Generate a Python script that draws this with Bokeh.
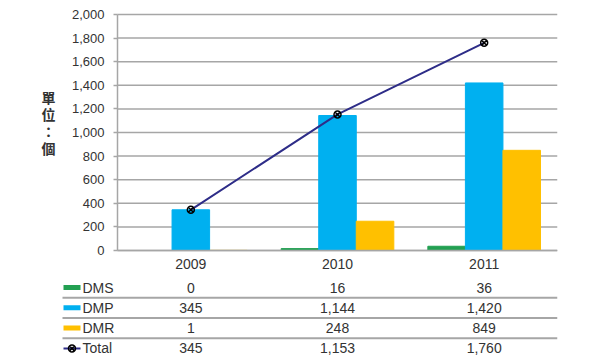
from bokeh.plotting import figure
from bokeh.models import ColumnDataSource, Range1d, FixedTicker, NumeralTickFormatter
from bokeh.transform import dodge
from bokeh.core.properties import value
from bokeh.embed import file_html
from bokeh.resources import INLINE

# ---- data ----
years = ["2009", "2010", "2011"]
dms = [0, 16, 36]
dmp = [345, 1144, 1420]
dmr = [1, 248, 849]
total = [345, 1153, 1760]
series_names = ["DMS", "DMP", "DMR", "Total"]
y_ticks = [0, 200, 400, 600, 800, 1000, 1200, 1400, 1600, 1800, 2000]
y_label = "單\n位\n：\n個"

# ---- style ----
C_DMS = "#22A052"
C_DMP = "#00B0F0"
C_DMR = "#FFC000"
C_TOT = "#2E2D88"
GRID = "#a6a6a6"
TXT = "#333333"
FONT = "Liberation Sans"
BW = 0.256

W, H = 592, 356
LEFT, RIGHT, TOP = 36, 35, 4           # frame borders (px)
AXIS_X, TABLE_X = 117, 62              # pixel columns of the y axis / table start
ZERO_PX, MAX_PX = 250, 14              # pixel rows of 0 and 2000
PX = 2000 / (ZERO_PX - MAX_PX)         # data units per pixel (y)
ROW0, ROWSTEP = 37, 20.3               # table rows below zero line (px)

n = len(years)
UX = (W - RIGHT - AXIS_X) / n          # pixels per category
xpos = [i + 0.5 for i in range(n)]
src = ColumnDataSource(dict(x=xpos, dms=dms, dmp=dmp, dmr=dmr, total=total))

def xd(px):
    return (px - AXIS_X) / UX

p = figure(width=W, height=H, x_range=Range1d(xd(LEFT), n),
           y_range=Range1d(-(H - ZERO_PX) * PX, 2000 + (MAX_PX - TOP) * PX),
           output_backend="svg", toolbar_location=None,
           min_border_left=LEFT, min_border_right=RIGHT, min_border_top=TOP,
           min_border_bottom=0)
p.outline_line_color = None
p.background_fill_color = "white"
p.border_fill_color = "white"

# chart gridlines (only over the plot area)
p.xgrid.grid_line_color = None
p.ygrid.grid_line_color = None
p.segment(x0=[0] * len(y_ticks), x1=[n] * len(y_ticks), y0=y_ticks,
          y1=y_ticks, line_color=GRID, line_width=1.5)

# bars and total line
p.vbar(x=dodge("x", -BW), top="dms", width=BW, color=C_DMS, source=src)
p.vbar(x=dodge("x", 0), top="dmp", width=BW, color=C_DMP, source=src)
p.vbar(x=dodge("x", BW), top="dmr", width=BW, color=C_DMR, source=src)
p.line(x="x", y="total", line_color=C_TOT, line_width=2, source=src)
p.scatter(x="x", y="total", marker="circle_x", size=7, line_color="black",
          fill_color=None, line_width=1.5, source=src)

# y axis at x = 0
yax = p.yaxis[0]
yax.fixed_location = 0
yax.bounds = (0, 2000)
yax.ticker = FixedTicker(ticks=y_ticks)
yax.formatter = NumeralTickFormatter(format="0,0")
yax.axis_line_color = GRID
yax.axis_line_width = 1.5
yax.major_tick_line_color = GRID
yax.major_tick_line_width = 1.5
yax.major_tick_out = 4
yax.major_tick_in = 0
yax.minor_tick_line_color = None
yax.major_label_standoff = 9
yax.major_label_text_font = FONT
yax.major_label_text_font_size = "13px"
yax.major_label_text_color = TXT

# y-axis title (stacked characters, left of the tick labels)
p.text(x=[xd(48)], y=[(ZERO_PX - 122) * PX], text=[y_label],
       text_font=value("Noto Sans CJK TC"), text_font_size="14px",
       text_font_style="bold", text_color=TXT, text_align="center",
       text_baseline="middle", text_line_height=0.84)

# x axis at y = 0
xax = p.xaxis[0]
xax.fixed_location = 0
xax.bounds = (0, n)
xax.ticker = FixedTicker(ticks=xpos)
xax.major_label_overrides = {x: y for x, y in zip(xpos, years)}
xax.axis_line_color = GRID
xax.axis_line_width = 1.5
xax.major_tick_line_color = None
xax.minor_tick_line_color = None
xax.major_label_standoff = 2
xax.major_label_text_font = FONT
xax.major_label_text_font_size = "14px"
xax.major_label_text_color = TXT

# ---- data table ----
rows = [dms, dmp, dmr, total]
row_y = [-(ROW0 + r * ROWSTEP) * PX for r in range(len(rows))]
sep_y = [-(ROW0 + (r + 0.5) * ROWSTEP) * PX for r in range(len(rows) - 1)]
p.segment(x0=[xd(TABLE_X)] * len(sep_y), x1=[n] * len(sep_y), y0=sep_y, y1=sep_y,
          line_color=GRID, line_width=2)

xs, ys, txts = [], [], []
for r, vals in enumerate(rows):
    for i, v in enumerate(vals):
        xs.append(xpos[i])
        ys.append(row_y[r])
        txts.append(f"{v:,}")
p.text(x=xs, y=ys, text=txts, text_font=value(FONT), text_font_size="14px",
       text_color=TXT, text_align="center", text_baseline="middle")

p.text(x=[xd(82)] * len(series_names), y=row_y, text=series_names,
       text_font=value(FONT), text_font_size="14px", text_color=TXT,
       text_align="left", text_baseline="middle")

key_x = xd(71.5)
p.rect(x=[key_x] * 3, y=row_y[:3], width=17, height=5, width_units="screen",
       height_units="screen", fill_color=[C_DMS, C_DMP, C_DMR], line_color=None)
p.rect(x=[key_x], y=[row_y[3]], width=17, height=2, width_units="screen",
       height_units="screen", fill_color=C_TOT, line_color=None)
p.scatter(x=[key_x], y=[row_y[3]], marker="circle_x", size=7, line_color="black",
          fill_color=None, line_width=1.5)

open("out.html", "w").write(file_html(p, INLINE))
